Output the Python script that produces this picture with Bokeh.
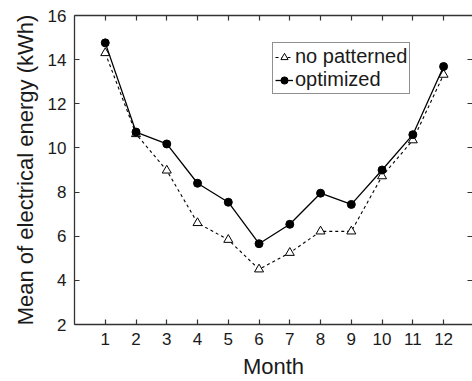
from bokeh.plotting import figure
from bokeh.models import LinearAxis, FixedTicker, Range1d, Legend, LegendItem
from bokeh.embed import file_html
from bokeh.resources import INLINE

months = [1, 2, 3, 4, 5, 6, 7, 8, 9, 10, 11, 12]
no_patterned = [14.3, 10.63, 8.98, 6.6, 5.84, 4.5, 5.25, 6.22, 6.22, 8.72, 10.35, 13.32]
optimized = [14.76, 10.72, 10.18, 8.4, 7.54, 5.66, 6.54, 7.95, 7.44, 9.0, 10.6, 13.69]
x_ticks = [1, 2, 3, 4, 5, 6, 7, 8, 9, 10, 11, 12]
y_ticks = [2, 4, 6, 8, 10, 12, 14, 16]

FONT = "Liberation Sans"
AX = "#333333"

p = figure(width=472, height=381, output_backend="svg", toolbar_location=None,
           x_range=Range1d(0, 12.94), y_range=Range1d(2, 16),
           min_border_left=74, min_border_right=0, min_border_top=15, min_border_bottom=57,
           x_axis_label="Month", y_axis_label="Mean of electrical energy (kWh)")
p.grid.visible = False
p.outline_line_color = None
p.background_fill_color = "white"
p.border_fill_color = "white"

bottom = p.below[0]
left = p.left[0]

# extra axes (top and right) with inward ticks only
top = LinearAxis()
right = LinearAxis()
p.add_layout(top, "above")
p.add_layout(right, "right")

for ax in [bottom, top]:
    ax.ticker = FixedTicker(ticks=x_ticks)
for ax in [left, right]:
    ax.ticker = FixedTicker(ticks=y_ticks)

for ax in [bottom, left, top, right]:
    ax.major_tick_in = 5
    ax.major_tick_out = 0
    ax.minor_tick_line_color = None
    ax.axis_line_color = AX
    ax.axis_line_width = 1.3
    ax.major_tick_line_color = AX
    ax.major_tick_line_width = 1.2
    ax.major_label_text_font = FONT
    ax.major_label_text_font_size = "17px"
    ax.major_label_text_color = "#1a1a1a"
    ax.axis_label_text_font = FONT
    ax.axis_label_text_font_size = "22px"
    ax.axis_label_text_font_style = "normal"
    ax.axis_label_text_color = "#1a1a1a"

top.major_label_overrides = {t: "" for t in x_ticks}
right.major_label_overrides = {t: "" for t in y_ticks}
for ax in [top, right]:
    ax.major_label_standoff = 0
    ax.axis_label = None
right.axis_line_color = None

bottom.major_label_standoff = 8
bottom.axis_label_standoff = 6
left.major_label_standoff = 8
left.axis_label_standoff = 7

l1 = p.line(months, no_patterned, line_color="black", line_width=1.1, line_dash="3 3")
s1 = p.scatter(months, no_patterned, marker="triangle", size=9, fill_color="white",
               line_color="black", line_width=1)
l2 = p.line(months, optimized, line_color="black", line_width=1.3)
s2 = p.scatter(months, optimized, marker="circle", size=8, fill_color="black",
               line_color="black")

legend = Legend(items=[LegendItem(label="no patterned", renderers=[l1, s1]),
                       LegendItem(label="optimized", renderers=[l2, s2])],
                location=(198, 230))
legend.border_line_color = "#222222"
legend.border_line_width = 1.2
legend.background_fill_alpha = 1
legend.padding = 2
legend.margin = 0
legend.spacing = 0
legend.glyph_width = 18
legend.glyph_height = 18
legend.label_standoff = 2
legend.label_height = 22
legend.label_text_font = FONT
legend.label_text_font_size = "20px"
legend.label_text_color = "#1a1a1a"
p.add_layout(legend, "center")

open("out.html", "w").write(file_html(p, INLINE))
